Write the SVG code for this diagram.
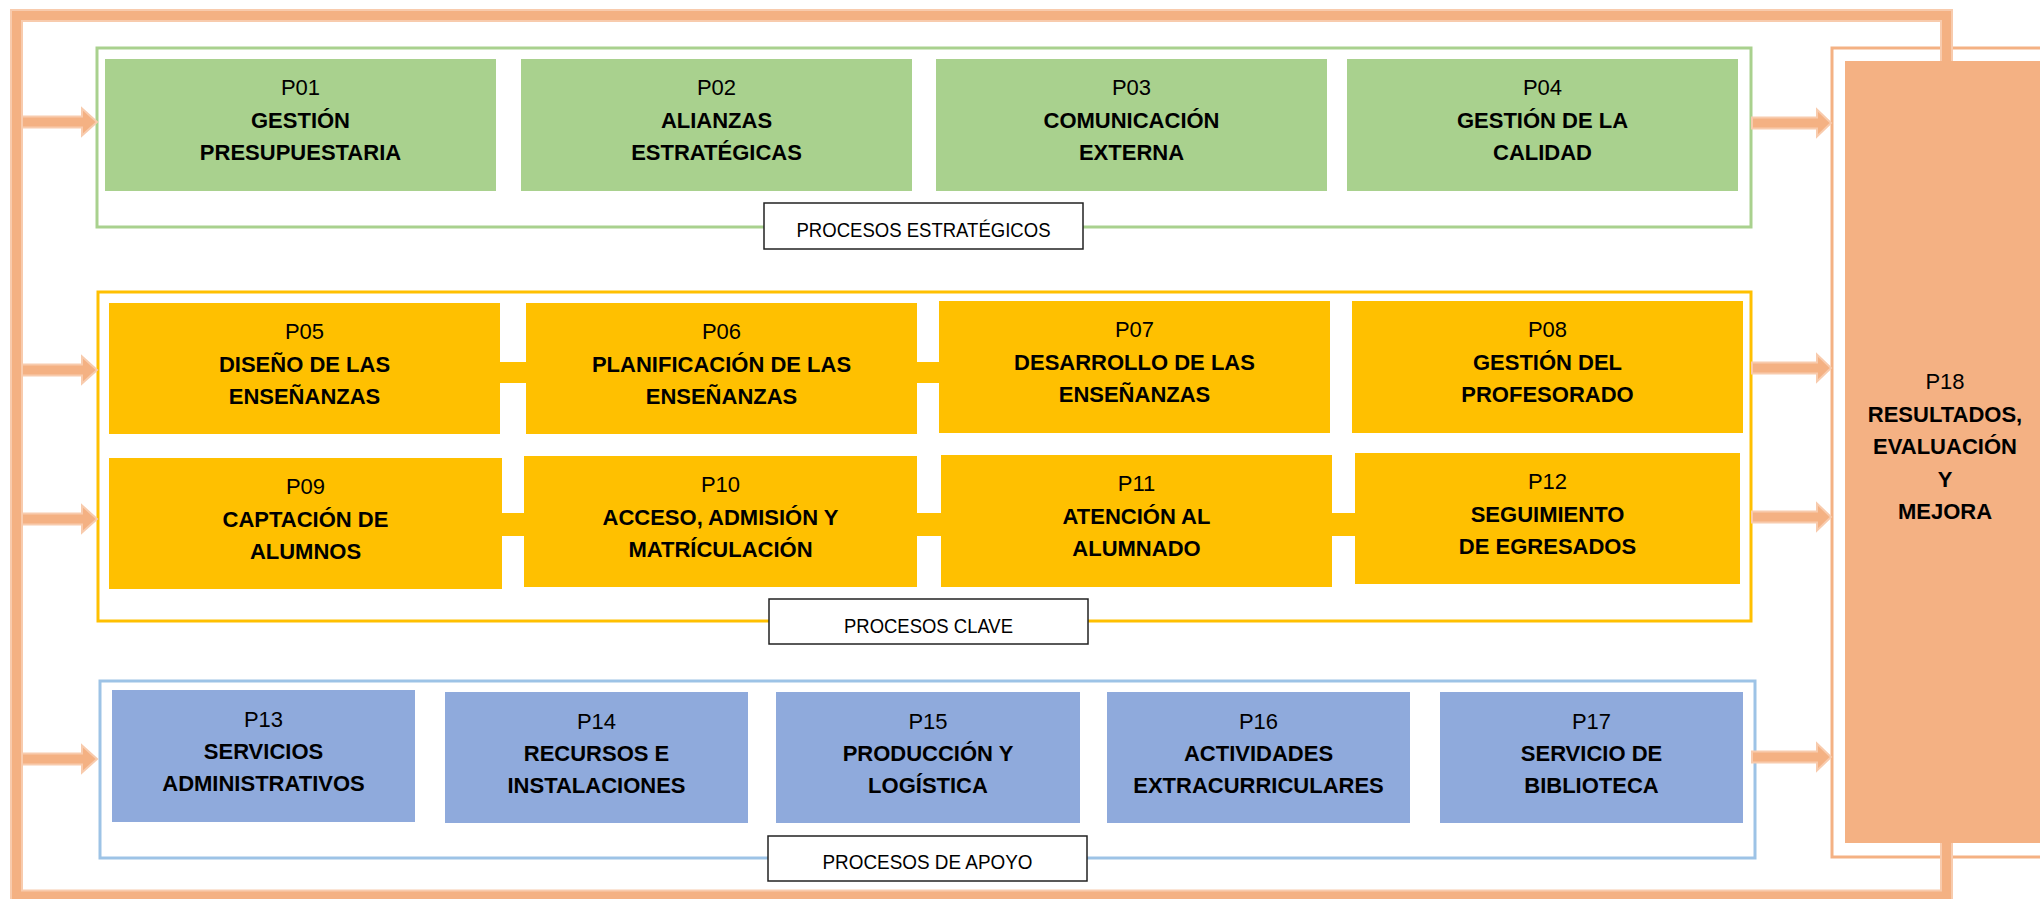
<svg xmlns="http://www.w3.org/2000/svg" width="2040" height="899" viewBox="0 0 2040 899">
<style>
.bg{fill:#ffffff}
.g{fill:#A9D18E}
.y{fill:#FFC000}
.b{fill:#8FAADC}
.o{fill:#F4B183}
.frame{fill:none;stroke-width:3}
.lbl{fill:#ffffff;stroke:#222222;stroke-width:1.5}
text{font-family:"Liberation Sans",Arial,sans-serif;fill:#000000;text-anchor:middle}
.t{font-size:22px}
.t .bd{font-weight:bold}
.lt{font-size:20px}
.arrow{fill:#F4B183;stroke:#F8CBAD;stroke-width:2}
.bar{fill:none;stroke-linejoin:miter}
</style>
<defs>
<path id="arrL" d="M0,-5.5 H60 V-13.5 L75,0 L60,13.5 V5.5 H0 Z"/>
<path id="arrR" d="M0,-5.5 H65 V-13.5 L79,0 L65,13.5 V5.5 H0 Z"/>
</defs>
<rect class="bg" x="0" y="0" width="2040" height="899"/>

<g id="frames">
<rect class="frame" x="97" y="48" width="1654" height="179" stroke="#A9D18E"/>
<rect class="frame" x="98" y="292" width="1653" height="329" stroke="#FFC000"/>
<rect class="frame" x="100" y="681" width="1655" height="177" stroke="#9DC3E6"/>
<rect class="frame" x="1832" y="48" width="260" height="809" stroke="#F4B183"/>
</g>

<g id="connectors">
<path class="bar" d="M1946.5,843 V896 H16.5 V15.5 H1946.5 V61" stroke="#F8CBAD" stroke-width="13"/>
<path class="bar" d="M1946.5,843 V896 H16.5 V15.5 H1946.5 V61" stroke="#F4B183" stroke-width="9"/>
<use href="#arrL" class="arrow" x="22" y="122"/>
<use href="#arrL" class="arrow" x="22" y="370"/>
<use href="#arrL" class="arrow" x="22" y="519"/>
<use href="#arrL" class="arrow" x="22" y="759"/>
<use href="#arrR" class="arrow" x="1752" y="123"/>
<use href="#arrR" class="arrow" x="1752" y="368"/>
<use href="#arrR" class="arrow" x="1752" y="517"/>
<use href="#arrR" class="arrow" x="1752" y="757"/>
<rect class="y" x="499" y="362" width="28" height="21"/>
<rect class="y" x="916" y="362" width="24" height="21"/>
<rect class="y" x="501" y="513" width="24" height="23"/>
<rect class="y" x="916" y="513" width="26" height="23"/>
<rect class="y" x="1331" y="513" width="25" height="23"/>
</g>

<g id="P01"><rect class="g" x="105" y="59" width="391" height="132"/>
<text class="t" x="300.5"><tspan x="300.5" y="95">P01</tspan><tspan class="bd" x="300.5" y="127.5">GESTIÓN</tspan><tspan class="bd" x="300.5" y="160">PRESUPUESTARIA</tspan></text></g>
<g id="P02"><rect class="g" x="521" y="59" width="391" height="132"/>
<text class="t"><tspan x="716.5" y="95">P02</tspan><tspan class="bd" x="716.5" y="127.5">ALIANZAS</tspan><tspan class="bd" x="716.5" y="160">ESTRATÉGICAS</tspan></text></g>
<g id="P03"><rect class="g" x="936" y="59" width="391" height="132"/>
<text class="t"><tspan x="1131.5" y="95">P03</tspan><tspan class="bd" x="1131.5" y="127.5">COMUNICACIÓN</tspan><tspan class="bd" x="1131.5" y="160">EXTERNA</tspan></text></g>
<g id="P04"><rect class="g" x="1347" y="59" width="391" height="132"/>
<text class="t"><tspan x="1542.5" y="95">P04</tspan><tspan class="bd" x="1542.5" y="127.5">GESTIÓN DE LA</tspan><tspan class="bd" x="1542.5" y="160">CALIDAD</tspan></text></g>

<g id="L1"><rect class="lbl" x="764" y="203" width="319" height="46"/>
<text class="lt" x="923.5" y="237" textLength="254" lengthAdjust="spacingAndGlyphs">PROCESOS ESTRATÉGICOS</text></g>

<g id="P05"><rect class="y" x="109" y="303" width="391" height="131"/>
<text class="t"><tspan x="304.5" y="339">P05</tspan><tspan class="bd" x="304.5" y="371.5">DISEÑO DE LAS</tspan><tspan class="bd" x="304.5" y="404">ENSEÑANZAS</tspan></text></g>
<g id="P06"><rect class="y" x="526" y="303" width="391" height="131"/>
<text class="t"><tspan x="721.5" y="339">P06</tspan><tspan class="bd" x="721.5" y="371.5">PLANIFICACIÓN DE LAS</tspan><tspan class="bd" x="721.5" y="404">ENSEÑANZAS</tspan></text></g>
<g id="P07"><rect class="y" x="939" y="301" width="391" height="132"/>
<text class="t"><tspan x="1134.5" y="337">P07</tspan><tspan class="bd" x="1134.5" y="369.5">DESARROLLO DE LAS</tspan><tspan class="bd" x="1134.5" y="402">ENSEÑANZAS</tspan></text></g>
<g id="P08"><rect class="y" x="1352" y="301" width="391" height="132"/>
<text class="t"><tspan x="1547.5" y="337">P08</tspan><tspan class="bd" x="1547.5" y="369.5">GESTIÓN DEL</tspan><tspan class="bd" x="1547.5" y="402">PROFESORADO</tspan></text></g>

<g id="P09"><rect class="y" x="109" y="458" width="393" height="131"/>
<text class="t"><tspan x="305.5" y="494">P09</tspan><tspan class="bd" x="305.5" y="526.5">CAPTACIÓN DE</tspan><tspan class="bd" x="305.5" y="559">ALUMNOS</tspan></text></g>
<g id="P10"><rect class="y" x="524" y="456" width="393" height="131"/>
<text class="t"><tspan x="720.5" y="492">P10</tspan><tspan class="bd" x="720.5" y="524.5">ACCESO, ADMISIÓN Y</tspan><tspan class="bd" x="720.5" y="557">MATRÍCULACIÓN</tspan></text></g>
<g id="P11"><rect class="y" x="941" y="455" width="391" height="132"/>
<text class="t"><tspan x="1136.5" y="491">P11</tspan><tspan class="bd" x="1136.5" y="523.5">ATENCIÓN AL</tspan><tspan class="bd" x="1136.5" y="556">ALUMNADO</tspan></text></g>
<g id="P12"><rect class="y" x="1355" y="453" width="385" height="131"/>
<text class="t"><tspan x="1547.5" y="489">P12</tspan><tspan class="bd" x="1547.5" y="521.5">SEGUIMIENTO</tspan><tspan class="bd" x="1547.5" y="554">DE EGRESADOS</tspan></text></g>

<g id="L2"><rect class="lbl" x="769" y="599" width="319" height="45"/>
<text class="lt" x="928.5" y="633" textLength="169" lengthAdjust="spacingAndGlyphs">PROCESOS CLAVE</text></g>

<g id="P13"><rect class="b" x="112" y="690" width="303" height="132"/>
<text class="t"><tspan x="263.5" y="727">P13</tspan><tspan class="bd" x="263.5" y="759">SERVICIOS</tspan><tspan class="bd" x="263.5" y="791">ADMINISTRATIVOS</tspan></text></g>
<g id="P14"><rect class="b" x="445" y="692" width="303" height="131"/>
<text class="t"><tspan x="596.5" y="729">P14</tspan><tspan class="bd" x="596.5" y="761">RECURSOS E</tspan><tspan class="bd" x="596.5" y="793">INSTALACIONES</tspan></text></g>
<g id="P15"><rect class="b" x="776" y="692" width="304" height="131"/>
<text class="t"><tspan x="928" y="729">P15</tspan><tspan class="bd" x="928" y="761">PRODUCCIÓN Y</tspan><tspan class="bd" x="928" y="793">LOGÍSTICA</tspan></text></g>
<g id="P16"><rect class="b" x="1107" y="692" width="303" height="131"/>
<text class="t"><tspan x="1258.5" y="729">P16</tspan><tspan class="bd" x="1258.5" y="761">ACTIVIDADES</tspan><tspan class="bd" x="1258.5" y="793">EXTRACURRICULARES</tspan></text></g>
<g id="P17"><rect class="b" x="1440" y="692" width="303" height="131"/>
<text class="t"><tspan x="1591.5" y="729">P17</tspan><tspan class="bd" x="1591.5" y="761">SERVICIO DE</tspan><tspan class="bd" x="1591.5" y="793">BIBLIOTECA</tspan></text></g>

<g id="L3"><rect class="lbl" x="768" y="836" width="319" height="45"/>
<text class="lt" x="927.5" y="869" textLength="210" lengthAdjust="spacingAndGlyphs">PROCESOS DE APOYO</text></g>

<g id="P18"><rect class="o" x="1845" y="61" width="200" height="782"/>
<text class="t"><tspan x="1945" y="389">P18</tspan><tspan class="bd" x="1945" y="422">RESULTADOS,</tspan><tspan class="bd" x="1945" y="454">EVALUACIÓN</tspan><tspan class="bd" x="1945" y="487">Y</tspan><tspan class="bd" x="1945" y="519">MEJORA</tspan></text></g>
</svg>
